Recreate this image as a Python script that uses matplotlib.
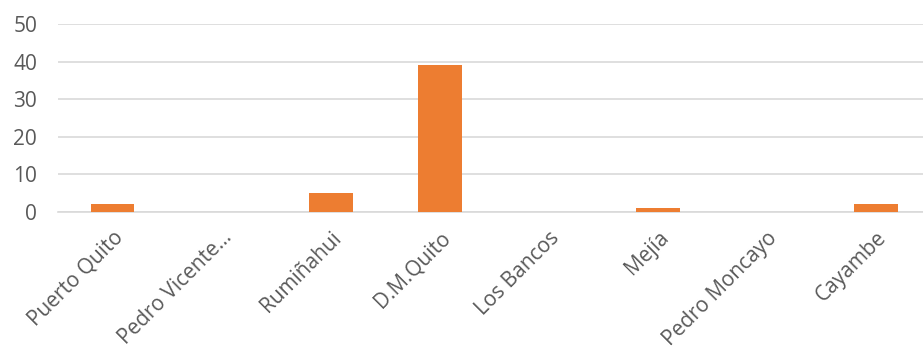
import numpy as np
import matplotlib.pyplot as plt

cantones = ["Puerto Quito", "Pedro Vicente…", "Rumiñahui", "D.M.Quito",
            "Los Bancos", "Mejía", "Pedro Moncayo", "Cayambe"]
valores = [2, 0, 5, 39, 0, 1, 0, 2]
y_ticks = [0, 10, 20, 30, 40, 50]

plt.rcParams['font.family'] = ['Open Sans', 'DejaVu Sans']

fig = plt.figure(figsize=(9.23, 3.51), dpi=100)
ax = fig.add_axes([0.0628, 0.396, 0.9372, 0.5356])

x = np.arange(len(cantones))
ax.bar(x, valores, width=0.403, color="#ED7D31", zorder=3)

# the plot area runs past the right edge of the picture
ax.set_xlim(-0.5, 7.43)
ax.set_ylim(0, 50)
ax.set_yticks(y_ticks)
ax.yaxis.grid(True, color="#D9D9D9", linewidth=1.2, zorder=0)
ax.set_xticks(x)
ax.set_xticklabels(cantones, rotation=45, ha="right", rotation_mode="anchor")
ax.tick_params(axis="both", length=0, labelsize=15, colors="#595959")
ax.tick_params(axis="x", pad=11)
ax.tick_params(axis="y", pad=15)
for s in ["top", "right", "left"]:
    ax.spines[s].set_visible(False)
ax.spines["bottom"].set_color("#D9D9D9")
ax.spines["bottom"].set_linewidth(1.2)

fig.savefig("out.png", dpi=100)
